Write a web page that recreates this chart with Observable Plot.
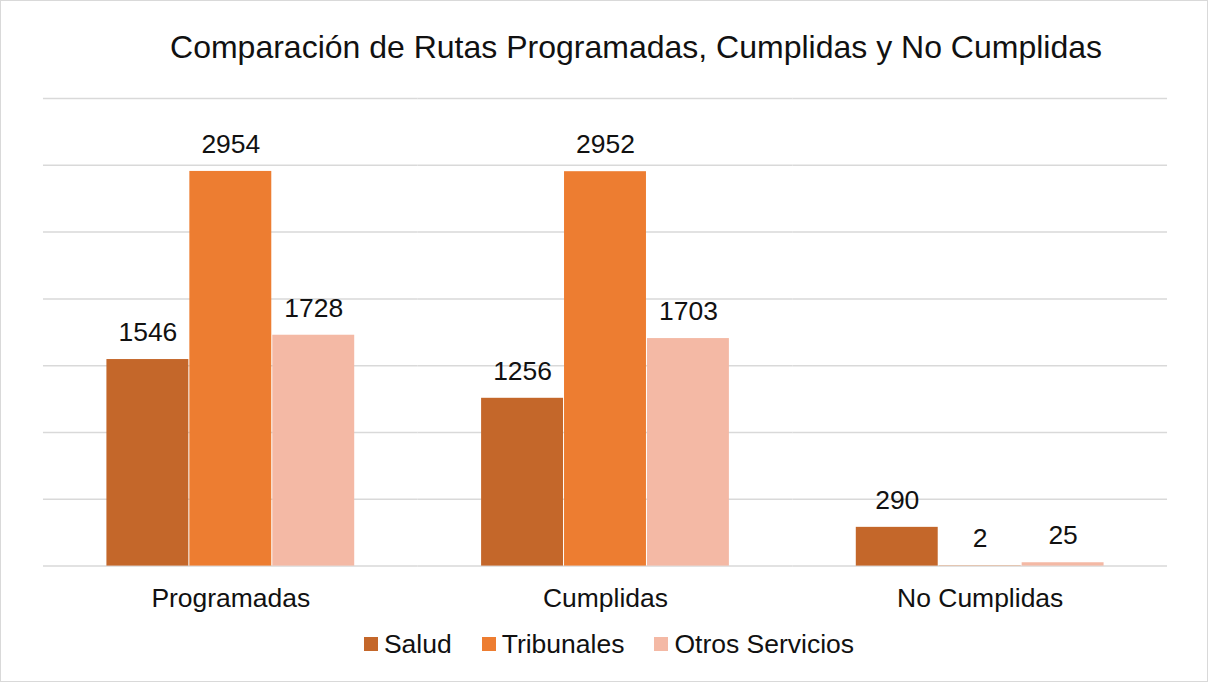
<!DOCTYPE html>
<html>
<head>
<meta charset="utf-8">
<script src="https://cdn.jsdelivr.net/npm/d3@7"></script>
<script src="https://cdn.jsdelivr.net/npm/@observablehq/plot@0.6"></script>
<style>
  html, body { margin: 0; padding: 0; background: #fff; }
  #wrap {
    position: relative; width: 1208px; height: 682px; box-sizing: border-box;
    border: 1px solid #d9d9d9; font-family: "Liberation Sans", Arial, sans-serif; color: #111;
    overflow: hidden;
  }
  #title {
    height: 79px; box-sizing: border-box; padding-left: 64px; text-align: center;
    font-size: 32px; line-height: 32px; padding-top: 30px; white-space: nowrap;
  }
  #chart { height: 540px; margin-left: -1px; }
  #legend {
    display: flex; justify-content: center; align-items: center; gap: 30px;
    font-size: 26.5px; height: 40px; margin-top: 4px; padding-left: 10px;
  }
  .item { display: flex; align-items: center; gap: 6px; }
  .sw { width: 14px; height: 14px; display: inline-block; }
</style>
</head>
<body>
<div id="wrap">
  <div id="title">Comparación de Rutas Programadas, Cumplidas y No Cumplidas</div>
  <div id="chart"></div>
  <div id="legend"></div>
</div>
<script>
const categories = ["Programadas", "Cumplidas", "No Cumplidas"];
const series = ["Salud", "Tribunales", "Otros Servicios"];
const salud = [1546, 1256, 290];
const tribunales = [2954, 2952, 2];
const otros = [1728, 1703, 25];
const yTicks = [0, 500, 1000, 1500, 2000, 2500, 3000, 3500];
const colors = ["#C4672A", "#ED7D31", "#F4B9A5"];

const seriesValues = [salud, tribunales, otros];
const data = [];
categories.forEach((c, i) => {
  series.forEach((s, j) => {
    data.push({cat: c, serie: s, value: seriesValues[j][i]});
  });
});

const chart = Plot.plot({
  width: 1208,
  height: 540,
  marginTop: 18,
  marginBottom: 54,
  marginLeft: 42,
  marginRight: 40,
  style: {fontSize: "26.5px", fontFamily: "'Liberation Sans', Arial, sans-serif", color: "#111"},
  fx: {domain: categories, padding: 0, label: null, tickSize: 0, tickPadding: 22},
  x: {domain: series, paddingInner: 0, paddingOuter: 0.75, axis: null},
  y: {domain: [0, 3500], axis: null},
  color: {domain: series, range: colors},
  marks: [
    Plot.ruleY(yTicks, {stroke: "#d9d9d9", strokeWidth: 1.5}),
    Plot.barY(data, {fx: "cat", x: "serie", y: "value", fill: "serie", insetLeft: 0.5, insetRight: 0.5}),
    Plot.text(data, {fx: "cat", x: "serie", y: "value", text: d => String(d.value), dy: -27, fontSize: 26.5, fill: "#111"})
  ]
});
document.getElementById("chart").appendChild(chart);

const legend = document.getElementById("legend");
series.forEach((s, i) => {
  const it = document.createElement("div");
  it.className = "item";
  const sw = document.createElement("span");
  sw.className = "sw";
  sw.style.background = colors[i];
  const t = document.createElement("span");
  t.textContent = s;
  it.appendChild(sw);
  it.appendChild(t);
  legend.appendChild(it);
});
</script>
</body>
</html>
